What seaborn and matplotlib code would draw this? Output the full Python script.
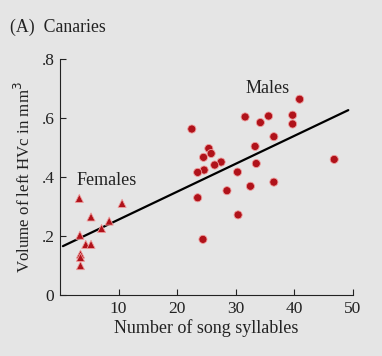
import pandas as pd
import matplotlib
matplotlib.use("Agg")
import matplotlib.pyplot as plt
import seaborn as sns

# Females (triangles)
female_syll = [3.3, 5.3, 10.6, 8.4, 7.1, 3.4, 4.4, 5.3, 3.5, 3.5, 3.5]
female_vol = [0.328, 0.265, 0.311, 0.251, 0.226, 0.203, 0.172, 0.172, 0.139, 0.128, 0.100]

# Males (circles)
male_syll = [40.9, 31.6, 35.6, 39.7, 34.2, 39.7, 22.5, 36.5, 33.3, 25.4, 25.8, 24.5,
             27.5, 26.4, 33.5, 46.8, 24.6, 23.5, 30.3, 28.5, 32.5, 36.5, 23.5, 30.4, 24.4]
male_vol = [0.664, 0.604, 0.607, 0.610, 0.585, 0.580, 0.563, 0.537, 0.504, 0.497, 0.480, 0.467,
            0.451, 0.441, 0.446, 0.460, 0.424, 0.416, 0.417, 0.354, 0.369, 0.383, 0.330, 0.272, 0.189]

# regression line as drawn in the figure
line_x = [0.5, 49.2]
line_y = [0.166, 0.627]

x_ticks = [10, 20, 30, 40, 50]
y_ticks = [0, 0.2, 0.4, 0.6, 0.8]
y_tick_labels = ["0", ".2", ".4", ".6", ".8"]

bg = "#e5e5e5"
red = "#b0121a"

df = pd.DataFrame({
    "syllables": female_syll + male_syll,
    "volume": female_vol + male_vol,
    "sex": ["Females"] * len(female_syll) + ["Males"] * len(male_syll),
})

sns.set_style("ticks")
plt.rcParams["font.family"] = ["Liberation Serif", "DejaVu Serif"]

fig = plt.figure(figsize=(3.82, 3.56), dpi=100, facecolor=bg)
ax = fig.add_axes([0.157, 0.171, 0.767, 0.663])
ax.set_facecolor(bg)

sns.lineplot(x=line_x, y=line_y, color="black", linewidth=1.6, ax=ax)
sns.scatterplot(data=df, x="syllables", y="volume", style="sex",
                markers={"Females": "^", "Males": "o"}, color=red,
                edgecolor="#ee9c9c", linewidth=0.6, s=34, legend=False,
                ax=ax, clip_on=False, zorder=3)

ax.set_xlim(0, 50)
ax.set_ylim(0, 0.8)
ax.set_xticks(x_ticks)
ax.set_yticks(y_ticks)
ax.set_yticklabels(y_tick_labels)
ax.tick_params(direction="in", length=4, width=0.8, labelsize=12.5, colors="#222222", pad=4)
sns.despine(ax=ax)
for s in ["left", "bottom"]:
    ax.spines[s].set_linewidth(0.8)
    ax.spines[s].set_color("#222222")

ax.set_xlabel("Number of song syllables", fontsize=13, color="#222222", labelpad=2)
ax.set_ylabel("Volume of left HVc in mm$^3$", fontsize=12.2, color="#222222", labelpad=5)

ax.text(35.4, 0.70, "Males", fontsize=13, ha="center", va="center", color="#222222")
ax.text(8.0, 0.39, "Females", fontsize=13, ha="center", va="center", color="#222222")
fig.text(0.026, 0.924, "(A)  Canaries", fontsize=12.8, ha="left", va="center", color="#222222")

fig.savefig("out.png", dpi=100, facecolor=bg)
